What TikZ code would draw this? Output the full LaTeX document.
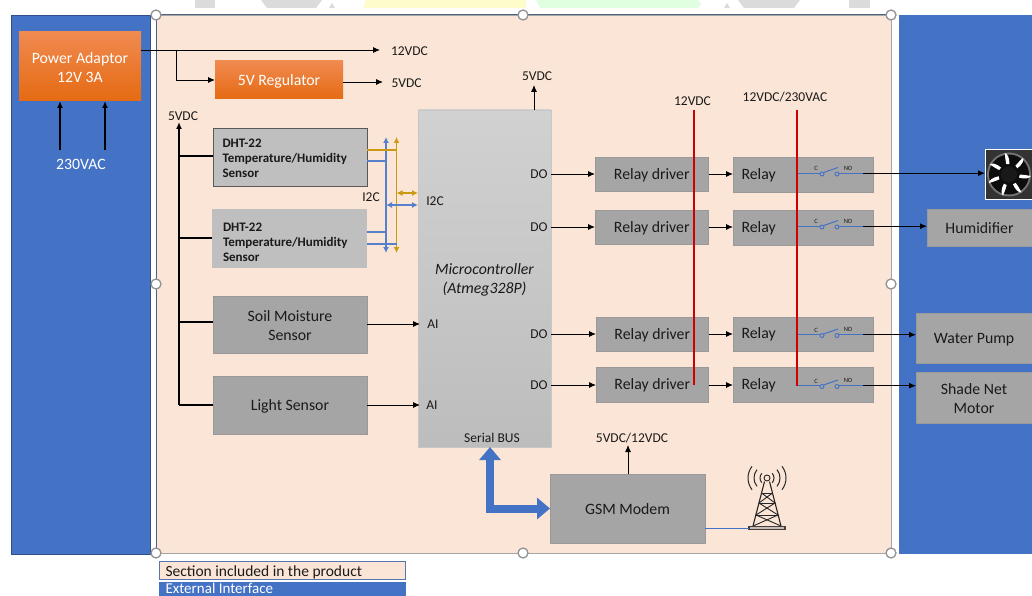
\documentclass[tikz,border=0pt]{standalone}
\usepackage{fontspec}
\setmainfont{Carlito}
\usetikzlibrary{arrows.meta,calc}
\definecolor{peach}{HTML}{FBE5D6}
\definecolor{extblue}{HTML}{4472C4}
\definecolor{boxgray}{HTML}{A5A5A5}
\definecolor{lightgray}{HTML}{BFBFBF}
\definecolor{edgegray}{HTML}{999999}
\definecolor{gold}{HTML}{C99A12}
\definecolor{relayred}{HTML}{D00000}
\definecolor{txt}{HTML}{1A1A1A}
\definecolor{orA}{HTML}{F08A50}
\definecolor{orB}{HTML}{F47A28}
\definecolor{orC}{HTML}{E56A12}
\tikzset{
  x=1pt,y=-1pt,
  every node/.style={inner sep=0pt,outer sep=0pt,font=\fontsize{15.8}{19}\selectfont,text=txt},
  lab/.style={align=center,yshift=-1pt,font=\fontsize{15.8}{19}\selectfont},
  boxtext/.style={label={[lab]center:#1}},
  box/.style={fill=boxgray,draw=edgegray,line width=.8pt,anchor=north west},
  orangebox/.style={anchor=north west,top color=orA,middle color=orB,bottom color=orC},
  wlab/.style={align=center,yshift=-1pt,font=\fontsize{15.8}{19}\selectfont,text=white},
  tag/.style={font=\fontsize{13.5}{16}\selectfont,anchor=center},
  arr/.style={-{Latex[length=7pt,width=6pt]},line width=.9pt,black},
  power/.style={-{Latex[length=7pt,width=6pt]},line width=1.6pt,black},
  feed/.style={line width=1.3pt,black},
  bluebus/.style={{Latex[length=6pt,width=6pt]}-{Latex[length=6pt,width=6pt]},line width=1.2pt,color=extblue!90!white},
  goldbus/.style={{Latex[length=6pt,width=6pt]}-{Latex[length=6pt,width=6pt]},line width=1.2pt,color=gold},
  redline/.style={line width=1.4pt,color=relayred},
  swline/.style={line width=1.2pt,color=extblue},
  swdot/.style={circle,draw=extblue,fill=none,line width=.9pt,minimum size=4pt},
  tiny/.style={font=\fontsize{6.5}{7}\selectfont,text=txt},
  handle/.style={circle,fill=white,draw=gray!85,line width=1.3pt,minimum size=10pt},
  towerl/.style={line width=.9pt,color=black!85},
  dhttext/.style={anchor=west,font=\bfseries\fontsize{13}{15.2}\selectfont,align=left},
}
\begin{document}
\begin{tikzpicture}
\useasboundingbox (0,0) rectangle (1032,596);
\fill[white] (0,0) rectangle (1032,596);
% faded remains at the top edge
\fill[black!14] (195,0) rectangle (215,8);
\fill[black!14] (261,0) -- (322,0) -- (316,8) -- (267,8) -- cycle;
\fill[black!14] (329,8) -- (332,3) -- (335,8) -- cycle;
\fill[yellow!20] (366,0) -- (526,0) -- (526,8) -- (363,8) -- cycle;
\fill[green!12] (536,0) -- (698,0) -- (701,4) -- (698,8) -- (540,8) -- cycle;
\fill[black!14] (724,8) -- (727,3) -- (730,8) -- cycle;
\fill[black!14] (738,0) -- (800,0) -- (794,8) -- (744,8) -- cycle;
\fill[black!14] (849,0) rectangle (870,8);
% panels
\node[fill=extblue,draw=extblue!70!black,line width=.5pt,anchor=north west,minimum width=139.5pt,minimum height=539pt] (leftpanel) at (11,15) {};
\node[fill=extblue,anchor=north west,minimum width=133pt,minimum height=539pt] (rightpanel) at (899,15) {};
\node[fill=peach,draw=black!35,line width=.9pt,anchor=north west,minimum width=735pt,minimum height=538pt] (product) at (156.5,15) {};
\draw[extblue!50!black!80,line width=1pt] (product.south west) -- (product.north west) -- (product.north east);
% power
\node[orangebox,minimum width=122pt,minimum height=69pt] (adaptor) at (19,32) {};
\node[wlab] (adaptort) at (80,66.5) {Power Adaptor\\12V 3A};
\node[orangebox,minimum width=128pt,minimum height=38pt] (reg) at (215,61) {};
\node[wlab] (regt) at (279,80.5) {5V Regulator};
\node[text=white] (vac) at (81,164.5) {230VAC};
\coordinate (aca) at (60,150);
\coordinate (acb) at (105,150);
\draw[power] (aca) -- (aca |- adaptor.south);
\draw[power] (acb) -- (acb |- adaptor.south);
\node[tag,anchor=west] (v12) at (391,51) {12VDC};
\node[tag,anchor=west] (v5) at (391.5,83.5) {5VDC};
\coordinate (v12e) at (380,50);
\coordinate (v5e) at (383,82);
\coordinate (split) at (176,50);
\draw[arr] (adaptor.east |- v12e) -- (v12e);
\draw[arr] (split) |- (reg.west);
\draw[arr] (reg.east |- v5e) -- (v5e);
% sensors
\node[box,fill=lightgray,draw=black!65,line width=1pt,minimum width=154pt,minimum height=57pt] (dht1) at (213,129) {};
\node[dhttext] (dht1t) at (222.5,158.5) {DHT-22\\Temperature/Humidity\\Sensor};
\node[fill=lightgray,anchor=north west,minimum width=155pt,minimum height=59pt] (dht2) at (212,209) {};
\node[dhttext] (dht2t) at (223,242.5) {DHT-22\\Temperature/Humidity\\Sensor};
\node[box,minimum width=154pt,minimum height=57pt,boxtext={Soil Moisture\\Sensor}] (soil) at (213,296) {};
\node[box,minimum width=154pt,minimum height=58pt,boxtext={Light Sensor}] (light) at (213,376) {};
% 5V bus
\node[tag] (vbus) at (183,116) {5VDC};
\coordinate (bustop) at (179,122);
\coordinate (busend) at (179,405);
\draw[power] (busend) -- (bustop);
\draw[feed] (dht1.west |- 0,156) -- (bustop |- 0,156);
\draw[feed] (dht2.west |- 0,238) -- (bustop |- 0,238);
\draw[feed] (soil.west |- 0,322) -- (bustop |- 0,322);
\draw[feed] (light.west |- 0,405) -- (busend);
% MCU
\node[anchor=north west,minimum width=133pt,minimum height=337pt,top color=black!18,bottom color=black!26,draw=black!22,line width=.5pt] (mcu) at (418,110) {};
\node[font=\itshape\fontsize{15.8}{19}\selectfont,align=center] (mcut) at (484.5,279.5) {Microcontroller\\(Atmeg328P)};
\node[tag] (serial) at (492,438) {Serial BUS};
\node[tag] (ma) at (435,201) {I2C};
\node[tag] (i2cl) at (371,197) {I2C};
\node[tag] (ai1) at (433,324.5) {AI};
\node[tag] (ai2) at (432,405) {AI};
\node[tag] (do1) at (539,174) {DO};
\node[tag] (do2) at (539,227) {DO};
\node[tag] (do3) at (539,334) {DO};
\node[tag] (do4) at (539,385) {DO};
\node[tag] (mv) at (537,76) {5VDC};
\coordinate (mvt) at (534,85);
\draw[arr] (mvt |- mcu.north) -- (mvt);
% I2C bus
\coordinate (bt) at (386,137);
\coordinate (bb) at (386,253);
\coordinate (gt) at (396.5,137);
\coordinate (gb) at (396.5,253);
\draw[bluebus] (bt) -- (bb);
\draw[goldbus] (gt) -- (gb);
\draw[gold,line width=1.2pt] (dht1.east |- 0,150) -- (gt |- 0,150);
\draw[extblue!90!white,line width=1.2pt] (dht1.east |- 0,161) -- (bt |- 0,161);
\draw[extblue!90!white,line width=1.2pt] (dht2.east |- 0,232) -- (bt |- 0,232);
\draw[extblue!90!white,line width=1.2pt] (dht2.east |- 0,244) -- (gt |- 0,244);
\draw[goldbus] (gt |- 0,193) -- (mcu.west |- 0,193);
\draw[bluebus] (bt |- 0,205) -- (mcu.west |- 0,205);
\coordinate (aie1) at (420,324);
\coordinate (aie2) at (420,405);
\draw[arr] (soil.east |- aie1) -- (aie1);
\draw[arr] (light.east |- aie2) -- (aie2);
% relay drivers and relays
\foreach \n/\xa/\ya/\w/\h in {1/595/157/113.5/34,2/595/210/113.5/34,3/596/317/112.5/34,4/596/367/112.5/35}{
  \node[box,minimum width=\w pt,minimum height=\h pt,boxtext={Relay driver}] (drv\n) at (\xa,\ya) {};
}
\foreach \n/\ya/\h in {1/157/35,2/210/35,3/317/34,4/367/35}{
  \node[box,minimum width=140.5pt,minimum height=\h pt] (rel\n) at (733,\ya) {};
  \node[anchor=west] (relt\n) at (741.5,\ya+\h/2+.5) {Relay};
}
\foreach \n/\y in {1/174,2/227,3/334,4/385}{
  \draw[arr] (mcu.east |- 0,\y) -- (drv\n.west |- 0,\y);
  \draw[arr] (drv\n.east |- 0,\y) -- (rel\n.west |- 0,\y);
}
% switches
\foreach \n/\y in {1/174,2/227,3/335.5,4/386.5}{
  \node[swdot] (sa\n) at (822,\y) {};
  \node[swdot] (sb\n) at (837,\y) {};
  \coordinate (com\n) at (797,\y-.8);
  \coordinate (no\n) at (863,\y-.8);
  \draw[swline] (com\n) -- (sa\n.west |- com\n);
  \draw[swline] (sb\n.east |- no\n) -- (no\n);
  \draw[extblue,line width=1pt] (sa\n.north east) -- (838,\y-6.5);
  \node[tiny] (cl\n) at (816,\y-5.5) {C};
  \node[tiny] (nl\n) at (848,\y-6) {NO};
}
% loads
\node[box,minimum width=105pt,minimum height=37pt,boxtext={Humidifier}] (hum) at (927,209) {};
\node[box,minimum width=116pt,minimum height=50pt,label={[lab,yshift=-1pt]center:Water Pump}] (pump) at (916,313) {};
\node[box,minimum width=116pt,minimum height=51pt,boxtext={Shade Net\\Motor}] (shade) at (916,372) {};
% fan
\node[anchor=north west,fill=black!80,draw=white,line width=1pt,minimum width=47pt,minimum height=49pt] (fan) at (985,150) {};
\begin{scope}[shift={(1009,174.5)}]
  \fill[black!55] (0,0) circle (22);
  \fill[black!95] (0,0) circle (20);
  \foreach \a in {20,71,...,328}{
    \fill[white,rotate=\a] (9,-6) .. controls (14,-9) and (17,-10) .. (19,-11) .. controls (19,-8) and (16,-5) .. (10,-3) -- cycle;
  }
  \fill[black!90] (0,0) circle (8);
\end{scope}
\draw[arr] (no1) -- (fan.west |- no1);
\draw[arr] (no2) -- (hum.west |- no2);
\draw[arr] (no3) -- (pump.west |- no3);
\draw[arr] (no4) -- (shade.west |- no4);
% red supply lines
\node[tag] (r12) at (692.5,101) {12VDC};
\node[tag] (r230) at (785,97) {12VDC/230VAC};
\coordinate (ra) at (694,110);
\coordinate (rb) at (797,110);
\draw[redline] (ra) -- (ra |- do4);
\draw[redline] (rb) -- (rb |- com4);
% GSM
\node[box,minimum width=155pt,minimum height=69pt,boxtext={GSM Modem}] (gsm) at (550,474) {};
\node[tag] (gv) at (632,438) {5VDC/12VDC};
\coordinate (gvt) at (628,445);
\draw[arr] (gvt |- gsm.north) -- (gvt);
\coordinate (sb) at (490,447);
\draw[line width=8pt,extblue,{Triangle[length=13pt,width=21pt]}-{Triangle[length=13pt,width=21pt]},line join=miter] (sb) |- (gsm.west);
% tower
\begin{scope}[towerl]
  \draw (767,478) circle (3);
  \foreach \r/\s in {7/42,13/40,19/38}{
    \draw[line width=1pt] ($(767,478)+(-\s:\r)$) arc (-\s:\s:\r);
    \draw[line width=1pt] ($(767,478)+(180-\s:\r)$) arc (180-\s:180+\s:\r);
  }
  \draw[line width=1.1pt] (764.5,481.5) -- (753,526);
  \draw[line width=1.1pt] (769.5,481.5) -- (781,526);
  \draw (761.5,493) -- (772.5,493);
  \draw (759,503) -- (775,503);
  \draw (756,515) -- (778,515);
  \draw (761.5,493) -- (775,503) -- (756,515) -- (781,526);
  \draw (772.5,493) -- (759,503) -- (778,515) -- (753,526);
  \fill[black!75] (748,526) rectangle (786,530);
  \fill[peach!60!gray] (750,527) rectangle (784,528.5);
\end{scope}
\coordinate (twr) at (749,528);
\draw[extblue,line width=.9pt] (gsm.east |- twr) -- (twr);
% legend
\node[fill=peach,draw=extblue!70!gray,line width=.7pt,anchor=north west,minimum width=246.5pt,minimum height=18.5pt] (leg1) at (159,561) {};
\node[anchor=base west,font=\fontsize{15.5}{17}\selectfont] (leg1t) at (165.5,576) {Section included in the product};
\node[fill=extblue,anchor=north west,minimum width=247pt,minimum height=14pt] (leg2) at (159,582) {};
\node[anchor=base west,text=white,font=\fontsize{15}{17}\selectfont] (leg2t) at (165.5,593) {External Interface};
% selection handles
\foreach \n/\x/\y in {a/156/15,b/523/15,c/891/15,d/156/284,e/891/284,f/156/553,g/523/553,h/891/553}{
  \node[handle] (h\n) at (\x,\y) {};
}
\end{tikzpicture}
\end{document}
